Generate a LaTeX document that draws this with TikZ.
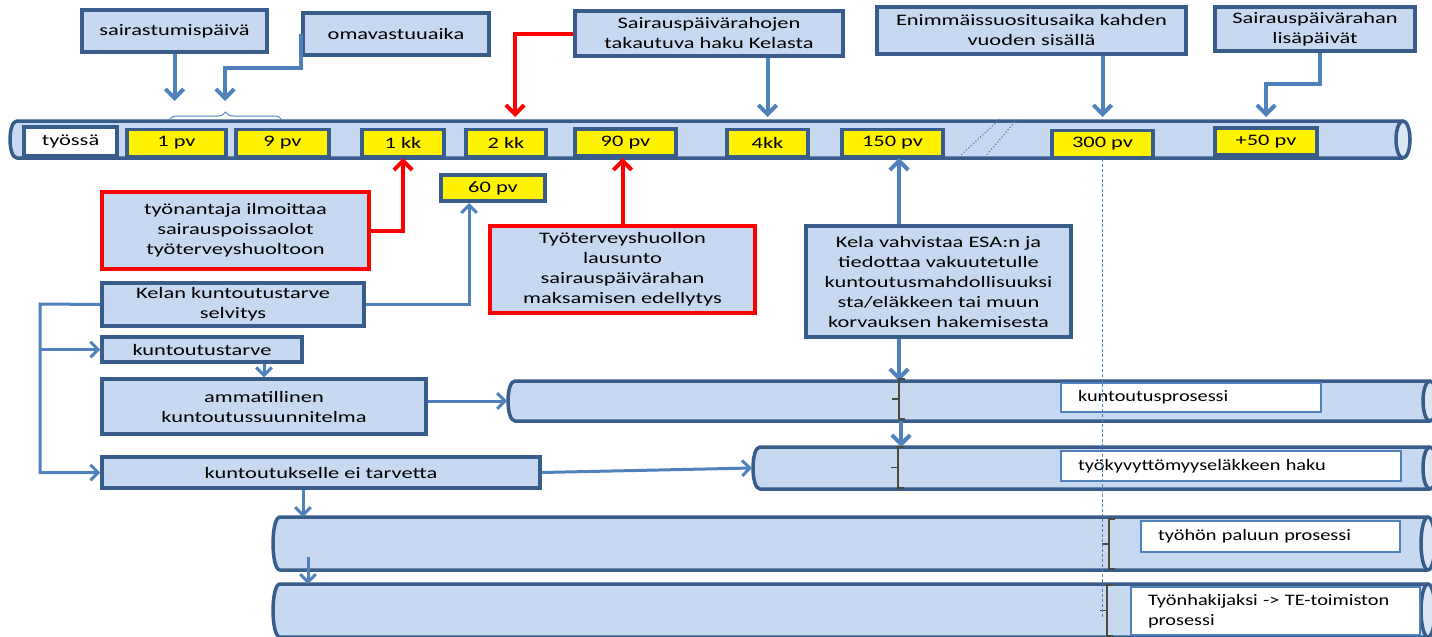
\documentclass[tikz,border=0pt]{standalone}
\usepackage{fontspec}
\setmainfont[FakeStretch=1.4]{Carlito}
\newfontfamily\lblfont[FakeStretch=1.27]{Carlito}
\usetikzlibrary{arrows.meta,decorations.pathreplacing,calc}
\definecolor{boxfill}{RGB}{198,217,241}
\definecolor{endfill}{RGB}{220,230,242}
\definecolor{boxline}{RGB}{56,93,138}
\definecolor{arrowblue}{RGB}{79,129,189}
\definecolor{bracegray}{RGB}{75,75,60}

\begin{document}
\begin{tikzpicture}[x=1pt,y=-1pt]
 % styles for boxes, pipes and arrows
 \tikzset{box/.style={draw=boxline,fill=boxfill,line width=3.5pt,inner sep=0pt,align=center,font=\fontsize{16}{20}\selectfont},
  redbox/.style={box,draw=red,line width=3.8pt},
  daybox/.style={box,fill=yellow,minimum height=27},
  whitebox/.style={draw=arrowblue,fill=white,line width=1.2pt,inner xsep=17pt,inner ysep=0pt,align=left,font=\lblfont\fontsize{16}{20}\selectfont},
  pipeline/.style={draw=boxline,line width=3.5pt,line join=round},
  barrow/.style={draw=arrowblue,line width=4pt,-{Straight Barb[angle=90:13pt]}},
  thinarrow/.style={draw=arrowblue,line width=3pt,-{Straight Barb[angle=90:11pt]}},
  redarrow/.style={draw=red,line width=4pt,-{Straight Barb[angle=90:13pt]}},
  pipebracket/.style={draw=bracegray,line width=1.2pt}}

 \useasboundingbox (0,0) rectangle (1432,637);

 %draw the pipes: name/left/right/top/bottom
 \foreach \n/\l/\r/\t/\b in {bar/10/1403/121/158, cyl1/508/1430/381/421, cyl2/753/1430/447/489, cyl3/273/1428/517/570, cyl4/273/1428/584/637}{
  \fill[boxfill] (\l+7,\t) -- (\r,\t) -- (\r,\b) -- (\l+7,\b) .. controls (\l-2.3,\b) and (\l-2.3,\t) .. (\l+7,\t);
  \draw[pipeline] (\r,\t) -- (\l+7,\t) .. controls (\l-2.3,\t) and (\l-2.3,\b) .. (\l+7,\b) -- (\r,\b);
  \filldraw[pipeline,fill=endfill] (\r,{(\t+\b)/2}) ellipse [x radius=7,y radius={(\b-\t)/2}];
  \coordinate (\n-top) at (\l,\t);
  \coordinate (\n-bot) at (\l,\b);
  \coordinate (\n-west) at (\l-1,{(\t+\b)/2});
 }

 %breaks on the time line
 \draw[arrowblue,line width=1.2pt,dotted] (959,157) -- (1001,118);
 \draw[arrowblue,line width=1.2pt,dotted] (985,157) -- (1018,118);

 %days on the time line
 \node[box,fill=white,minimum width=93,minimum height=29] (tyossa) at (70.5,141.5) {työssä};
 \node[daybox,minimum width=99] (p1) at (176.5,143) {1 pv};
 \node[daybox,minimum width=93] (p9) at (282.5,143) {9 pv};
 \node[daybox,minimum width=82] (kk1) at (403,143) {1 kk};
 \node[daybox,minimum width=80] (kk2) at (506,143) {2 kk};
 \node[daybox,minimum width=101] (p90) at (625.5,142.5) {90 pv};
 \node[daybox,minimum width=81] (kk4) at (767.5,143) {4kk};
 \node[daybox,minimum width=101] (p150) at (892.5,143) {150 pv};
 \node[daybox,minimum width=101] (p300) at (1102.5,144) {300 pv};
 \node[daybox,minimum width=102] (p50) at (1266,141.5) {+50 pv};
 \node[daybox,minimum width=104,minimum height=26] (p60) at (493,188) {60 pv};

 %top boxes
 \node[box,minimum width=185,minimum height=42] (sair) at (174.5,31) {sairastumispäivä};
 \node[box,minimum width=186,minimum height=42] (omava) at (396,34) {omavastuuaika};
 \node[box,minimum width=268,minimum height=45] (haku) at (709,33.5) {Sairauspäivärahojen\\takautuva haku Kelasta};
 \node[box,minimum width=309,minimum height=47] (enim) at (1031.5,30.5) {Enimmäissuositusaika kahden\\vuoden sisällä};
 \node[box,minimum width=200,minimum height=44] (lisa) at (1315,29) {Sairauspäivärahan\\lisäpäivät};

 %boxes below the time line
 \node[redbox,minimum width=267,minimum height=77] (tyonantaja) at (235.5,230.5) {työnantaja ilmoittaa\\sairauspoissaolot\\työterveyshuoltoon};
 \node[box,minimum width=262,minimum height=43] (kelan) at (233,304.5) {Kelan kuntoutustarve\\selvitys};
 \node[box,minimum width=200,minimum height=25] (kt) at (202,349.5) {kuntoutustarve};
 \node[box,minimum width=324,minimum height=55] (amm) at (264,406.5) {ammatillinen\\kuntoutussuunnitelma};
 \node[box,minimum width=438,minimum height=31] (ei) at (321,472.5) {kuntoutukselle ei tarvetta};
 \node[redbox,minimum width=265,minimum height=87] (tyoterv) at (622.5,269.5) {Työterveyshuollon\\lausunto\\sairauspäivärahan\\maksamisen edellytys};
 \node[box,minimum width=265,minimum height=111] (kela) at (938.5,281.5) {Kela vahvistaa ESA:n ja\\tiedottaa vakuutetulle\\kuntoutusmahdollisuuksi\\sta/eläkkeen tai muun\\korvauksen hakemisesta};

 %labels in the pipes
 \node[whitebox,minimum width=260,minimum height=29,text width=226] (lbl1) at (1191,397.5) {kuntoutusprosessi};
 \node[whitebox,minimum width=340,minimum height=30,text width=306] (lbl2) at (1231,466) {työkyvyttömyyseläkkeen haku};
 \node[whitebox,minimum width=259,minimum height=31,text width=225] (lbl3) at (1270.5,536.5) {työhön paluun prosessi};
 \node[whitebox,minimum width=289,minimum height=48,text width=255] (lbl4) at (1275.5,611) {Työnhakijaksi -> TE-toimiston\\prosessi};

 %arrows from the top
 \coordinate (tip1) at (174,101);
 \coordinate (tip2) at (225,101);
 \coordinate (tip3) at (515,117);
 \coordinate (knee) at (1320,84);
 \draw[barrow] (sair.south) -- (sair.south |- tip1);
 \draw[barrow] (omava.west) -- ++(0,34) -| (tip2);
 \draw[arrowblue,line width=1pt,decorate,decoration={brace,amplitude=8pt}] (169,120) -- (282,120);
 \draw[redarrow] (haku.west) -| (tip3);
 \draw[barrow] (haku.south -| kk4.north) -- (kk4.north |- tip3);
 \draw[barrow] (enim.south -| p300.north) -- (p300.north |- tip3);
 \draw[barrow] (lisa.south -| knee) -- (knee) -| (p50.north |- tip3);

 %arrows from below
 \coordinate (tip60) at (469,203);
 \coordinate (esa) at (899,0);
 \coordinate (esb) at (901,0);
 \draw[redarrow] (tyonantaja.east) -| (kk1.south |- bar-bot);
 \draw[thinarrow] (kelan.east) -| (tip60);
 \draw[redarrow] (tyoterv.north) -- (tyoterv.north |- bar-bot);
 \draw[barrow] (esa |- kela.north) -- (esa |- bar-bot);
 \draw[barrow] (esa |- kela.south) -- (esa |- cyl1-top);
 \draw[barrow] (esb |- cyl1-bot) -- (esb |- cyl2-top);

 %left side
 \coordinate (bus) at (40,304);
 \coordinate (drop) at (303,0);
 \coordinate (c3in) at (308,557);
 \draw[thinarrow] (kelan.west) -- (bus) |- (ei.west);
 \draw[thinarrow] (bus |- kt.west) -- (kt.west);
 \draw[thinarrow] (amm.north |- kt.south) -- (amm.north);
 \draw[thinarrow] (amm.east |- cyl1-west) -- (cyl1-west);
 \draw[thinarrow] (ei.east) -- (cyl2-west);
 \draw[thinarrow] (drop |- ei.south) -- (drop |- cyl3-top);
 \draw[thinarrow] (c3in) -- (c3in |- cyl4-top);

 %brackets in the pipes and the 300 pv line
 \foreach \x/\t/\b in {899/379/419, 898/447/488, 1109/519/569, 1107/585/636}
  \draw[pipebracket] (\x+6,\t) -- (\x,\t) -- (\x,\b) -- (\x+6,\b) (\x,{(\t+\b)/2}) -- ++(-7,0);
 \draw[arrowblue,line width=1.3pt,dash pattern=on 3pt off 2pt] (p300.south) -- ++(0,458);
\end{tikzpicture}
\end{document}
